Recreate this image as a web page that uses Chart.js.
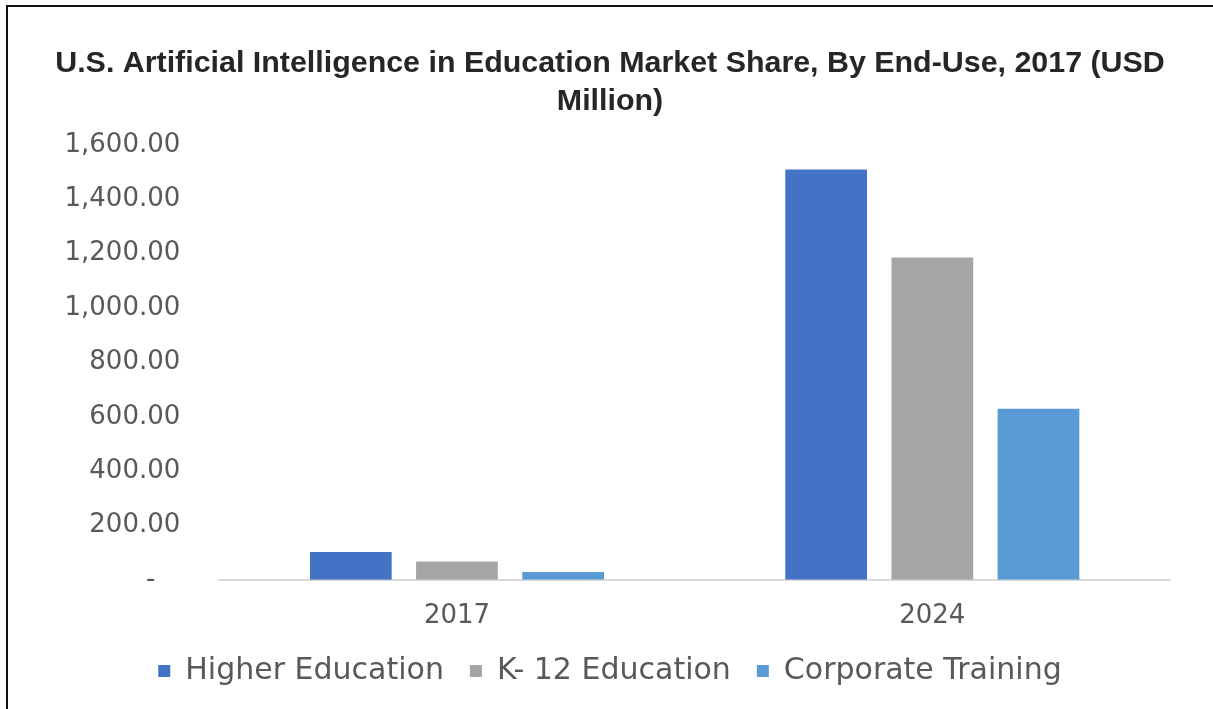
<!DOCTYPE html>
<html>
<head>
<meta charset="utf-8">
<script src="https://cdn.jsdelivr.net/npm/chart.js@4.4.1/dist/chart.umd.min.js"></script>
<style>
  body { margin: 0; background: #fff; }
  #wrap { position: relative; width: 1213px; height: 709px; }
  #frame { position: absolute; left: 6px; top: 5px; right: 0; bottom: 0;
           border-left: 2px solid #111; border-top: 2px solid #111; pointer-events: none; }
</style>
</head>
<body>
<div id="wrap">
  <canvas id="chartMercado" width="1213" height="709"></canvas>
  <div id="frame"></div>
</div>
<script>
// datos (USD millones)
const years = ['2017', '2024'];
const higherEducation = [102, 1510];
const k12Education = [67, 1186];
const corporateTraining = [29, 629];
const yTicks = [0, 200, 400, 600, 800, 1000, 1200, 1400, 1600];

const ctx = document.getElementById('chartMercado');
new Chart(ctx, {
    type: 'bar',
    data: {
      labels: years,
      datasets: [{
        label: 'Higher Education',
        data: higherEducation,
        backgroundColor: '#4472C4'
      }, {
        label: 'K- 12 Education',
        data: k12Education,
        backgroundColor: '#A5A5A5'
      }, {
        label: 'Corporate Training',
        data: corporateTraining,
        backgroundColor: '#5B9BD5'
      }]
    },
    options: {
      responsive: false,
      animation: false,
      layout: { padding: { left: 50, right: 43, top: 0, bottom: 13 } },
      datasets: {
        bar: { categoryPercentage: 0.67, barPercentage: 0.77 }
      },
      plugins: {
        title: {
          display: true,
          text: ['U.S. Artificial Intelligence in Education Market Share, By End-Use, 2017 (USD', 'Million)'],
          color: '#262626',
          font: { family: 'Liberation Sans', size: 30.4, weight: 'bold', lineHeight: 1.25 },
          padding: { top: 45, bottom: 24 }
        },
        legend: {
          position: 'bottom',
          labels: {
            color: '#595959',
            font: { family: 'DejaVu Sans', size: 30 },
            boxWidth: 12,
            boxHeight: 12,
            padding: 26
          }
        },
        tooltip: { enabled: false }
      },
      scales: {
        x: {
          grid: { display: false },
          border: { display: true, color: '#D9D9D9', width: 2 },
          ticks: {
            color: '#595959',
            font: { family: 'DejaVu Sans', size: 26 },
            padding: 13
          },
          afterFit: (scale) => { scale.height -= 15; }
        },
        y: {
          min: 0,
          max: 1600,
          afterBuildTicks: (axis) => { axis.ticks = yTicks.map(v => ({ value: v })); },
          grid: { display: false },
          border: { display: false },
          ticks: {
            color: '#595959',
            font: { family: 'DejaVu Sans', size: 26 },
            padding: 31,
            callback: (v) => v === 0 ? '-   ' : v.toLocaleString('en-US', { minimumFractionDigits: 2, maximumFractionDigits: 2 })
          },
          afterFit: (scale) => { scale.width -= 16.5; }
        }
      }
    }
  });
</script>
</body>
</html>
